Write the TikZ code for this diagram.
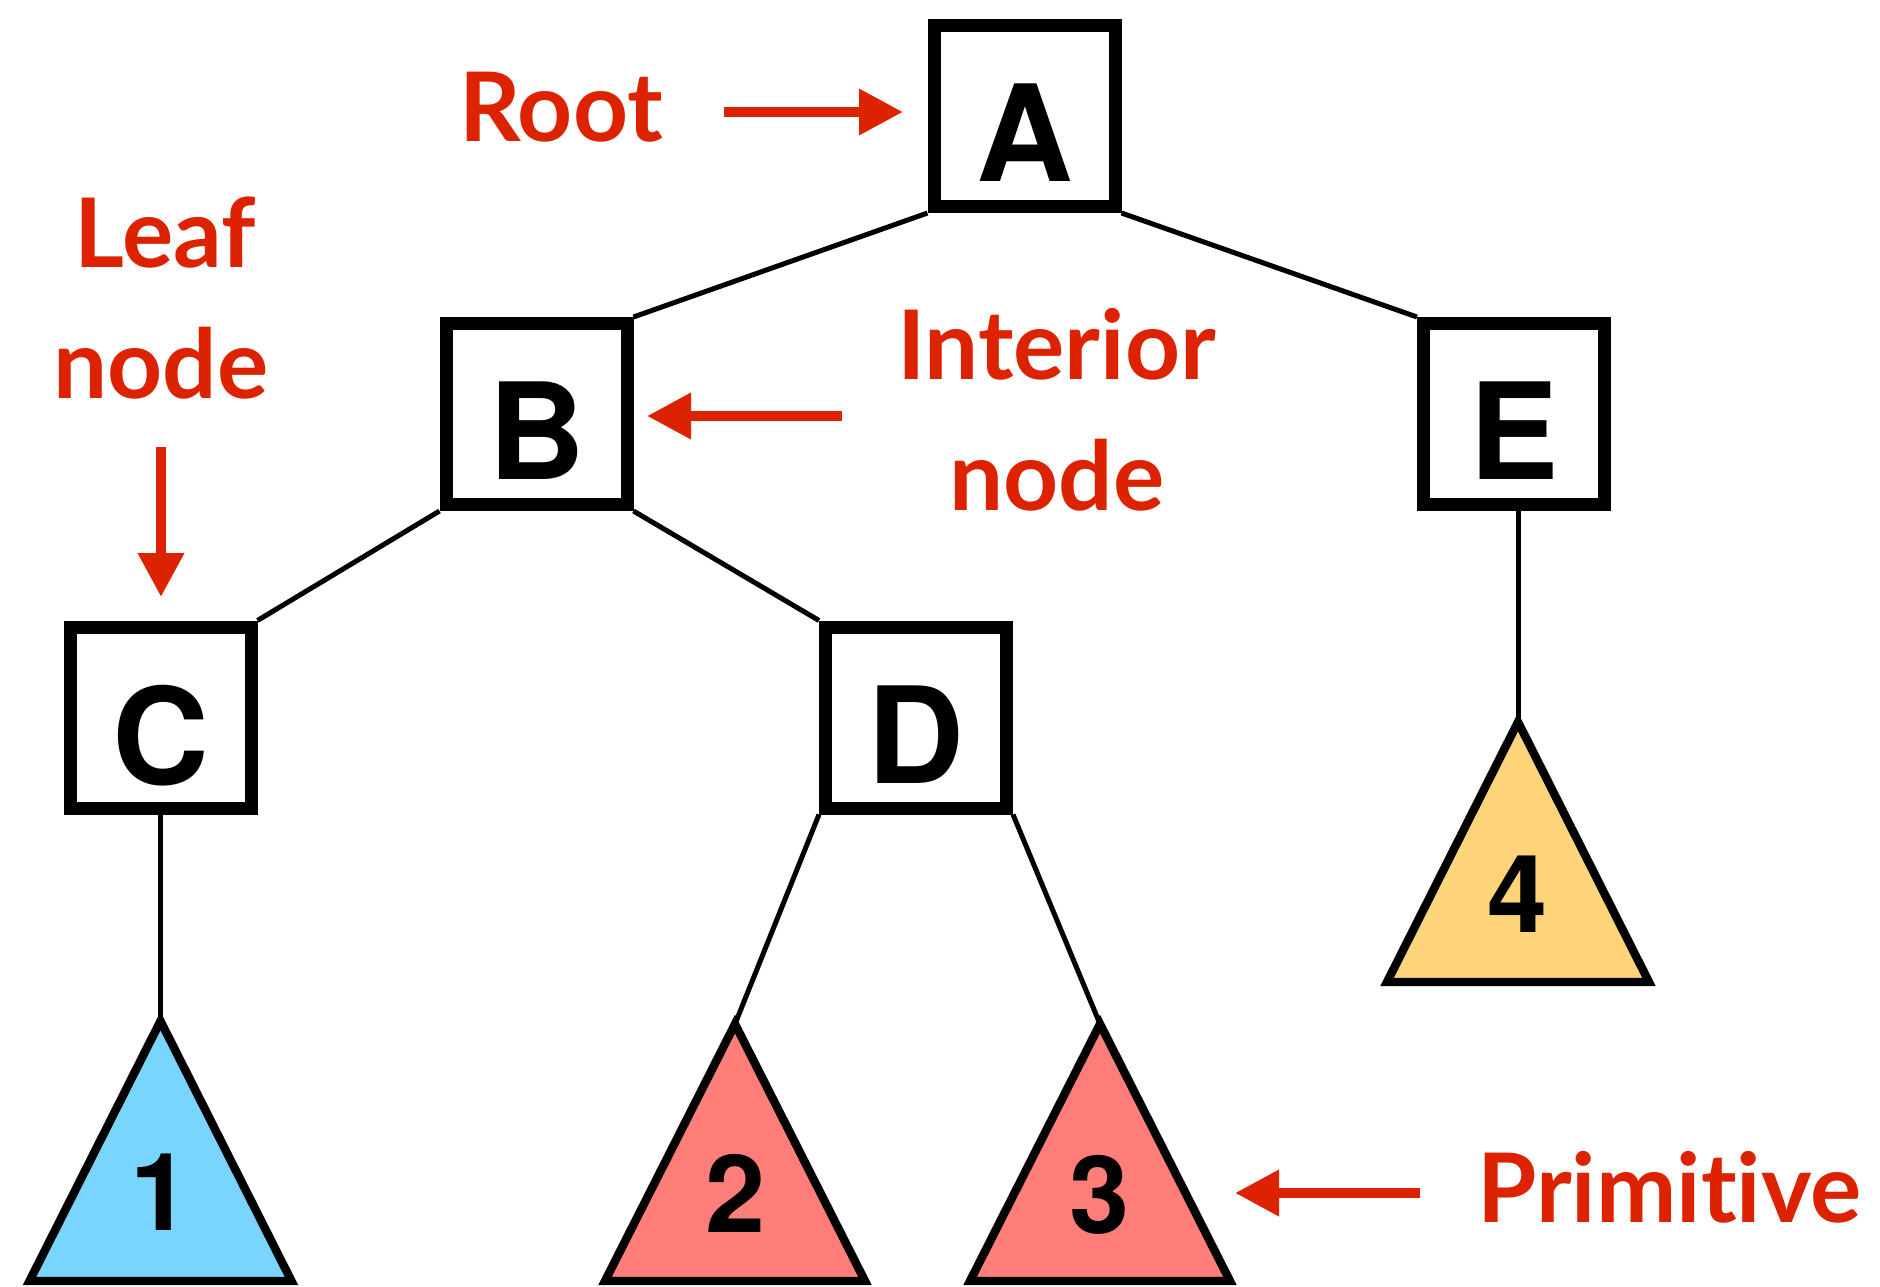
\documentclass[tikz,border=0pt]{standalone}
\usepackage{fontspec}
\setmainfont{Lato}[Ligatures={NoCommon},RawFeature={-liga;-dlig;-clig}]
\newfontfamily\boxfont{TeX Gyre Heros}
\usetikzlibrary{arrows.meta}
\definecolor{lblred}{HTML}{DD2200}
\definecolor{primblue}{HTML}{79D5FE}
\definecolor{primsalmon}{HTML}{FF7E79}
\definecolor{primyellow}{HTML}{FDD479}
\newcommand\lowered[1]{\raisebox{-8.5pt}[\height][0pt]{#1}}
\begin{document}
\begin{tikzpicture}[x=0.5pt,y=-0.5pt,
  treebox/.style={draw, line width=6.5pt, fill=white, minimum width=90.5pt, minimum height=90.5pt, inner sep=0pt, font=\boxfont\bfseries\fontsize{67}{67}\selectfont},
  edge/.style={line width=2.5pt},
  prim/.style={draw, line width=4.2pt, line join=miter},
  num/.style={anchor=base, inner sep=0pt, font=\boxfont\bfseries\fontsize{54}{54}\selectfont},
  lbl/.style={text=lblred, inner sep=0pt, font=\bfseries\fontsize{48}{48}\selectfont},
  redarrow/.style={draw=lblred, line width=5pt, -{Triangle[length=22pt,width=22pt]}}]
\useasboundingbox (0,0) rectangle (1880,1286);

% tree boxes
\node[treebox] (A) at (1024.5,116) {\lowered{A}};
\node[treebox] (B) at (536.5,414) {\lowered{B}};
\node[treebox] (E) at (1514,414) {\lowered{E}};
\node[treebox] (C) at (160.5,717.5) {\lowered{C}};
\node[treebox] (D) at (916,717.5) {\lowered{D}};

% primitive apexes
\coordinate (t1top) at (160.5,1021);
\coordinate (t2top) at (735,1024);
\coordinate (t3top) at (1100,1024);
\coordinate (t4top) at (1518,722);

% edges
\draw[edge] (A.south west) -- (B.north east);
\draw[edge] (A.south east) -- (E.north west);
\draw[edge] (B.south west) -- (C.north east);
\draw[edge] (B.south east) -- (D.north west);
\draw[edge] (t1top |- C.south) -- (t1top);
\draw[edge] (D.south west) -- (t2top);
\draw[edge] (D.south east) -- (t3top);
\draw[edge] (t4top |- E.south) -- (t4top);

% primitives
\draw[prim, fill=primblue] (t1top) -- ++(-131,260) -- ++(262,0) -- cycle;
\draw[prim, fill=primsalmon] (t2top) -- ++(-130,257) -- ++(260,0) -- cycle;
\draw[prim, fill=primsalmon] (t3top) -- ++(-130,257) -- ++(260,0) -- cycle;
\draw[prim, fill=primyellow] (t4top) -- ++(-131,260) -- ++(262,0) -- cycle;
\node[num] (n1) at (161,1230) {1};
\node[num] (n2) at (736,1232) {2};
\node[num] (n3) at (1100,1233) {3};
\node[num] (n4) at (1518,932) {4};

% labels
\node[lbl, anchor=base west] (root) at (459,141) {Root};
\node[lbl, anchor=base] (leaf) at (165,267) {Leaf};
\node[lbl, anchor=base] (leafnode) at (161,398) {node};
\node[lbl, anchor=base] (interior) at (1056.5,379) {Interior};
\node[lbl, anchor=base] (intnode) at (1057,510) {node};
\node[lbl, anchor=base west] (primitive) at (1477,1222) {Primitive};

% arrows
\coordinate (rootTail) at (724,112);
\coordinate (rootTip) at (903,112);
\coordinate (leafTail) at (161,447);
\coordinate (leafTip) at (161,597);
\coordinate (intTail) at (842,416);
\coordinate (intTip) at (647,416);
\coordinate (primTail) at (1420,1193);
\coordinate (primTip) at (1235,1193);
\draw[redarrow] (rootTail) -- (rootTip);
\draw[redarrow] (leafTail) -- (leafTip);
\draw[redarrow] (intTail) -- (intTip);
\draw[redarrow] (primTail) -- (primTip);
\end{tikzpicture}
\end{document}
